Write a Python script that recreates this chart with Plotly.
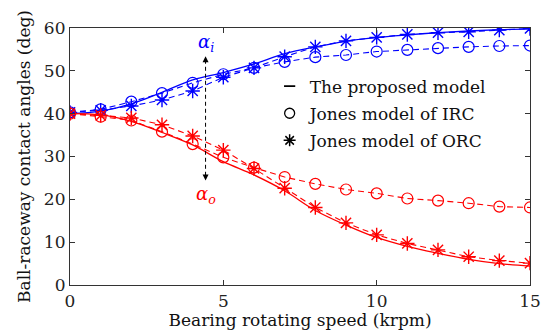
import plotly.graph_objects as go

speed = list(range(16))
x_ticks = [0, 5, 10, 15]
y_ticks = [0, 10, 20, 30, 40, 50, 60]

inner_proposed = [40.0, 40.6, 42.3, 45.0, 47.9, 49.6, 51.6, 54.0, 55.6, 56.9, 57.8, 58.4, 58.9, 59.3, 59.6, 59.8]
inner_irc = [40.3, 41.0, 42.8, 44.8, 47.2, 49.2, 50.7, 52.1, 53.2, 53.7, 54.5, 54.9, 55.3, 55.6, 55.8, 55.9]
inner_orc = [40.3, 40.8, 41.8, 43.2, 45.3, 48.5, 50.7, 53.3, 55.6, 57.0, 57.8, 58.5, 58.9, 59.1, 59.5, 59.9]

outer_proposed = [40.0, 39.7, 38.2, 35.6, 32.7, 28.8, 25.7, 22.0, 17.4, 14.0, 11.1, 9.0, 7.4, 6.0, 5.0, 4.4]
outer_irc = [40.0, 39.3, 38.4, 35.8, 32.9, 29.8, 27.4, 25.2, 23.6, 22.3, 21.4, 20.2, 19.7, 19.1, 18.3, 18.1]
outer_orc = [40.0, 39.6, 39.0, 37.4, 34.8, 31.5, 27.2, 22.6, 18.1, 14.5, 11.7, 9.7, 8.2, 6.6, 5.7, 5.1]

legend_names = ["The proposed model", "Jones model of IRC", "Jones model of ORC"]

BLUE = "#0000ff"
RED = "#ff0000"
FONT = "DejaVu Serif"

fig = go.Figure()

def add_set(color, prop, irc, orc):
    fig.add_trace(go.Scatter(x=speed, y=prop, mode="lines", line=dict(color=color, width=1.3, shape="spline"),
                             showlegend=False))
    fig.add_trace(go.Scatter(x=speed, y=irc, mode="lines+markers",
                             line=dict(color=color, width=1.1, dash="6px,4px"),
                             marker=dict(symbol="circle-open", size=11, color=color, line=dict(width=1.2, color=color)),
                             showlegend=False))
    fig.add_trace(go.Scatter(x=speed, y=orc, mode="lines+markers",
                             line=dict(color=color, width=1.1, dash="6px,4px"),
                             marker=dict(symbol="asterisk-open", size=12, color=color, line=dict(width=1.4, color=color)),
                             showlegend=False))

add_set(BLUE, inner_proposed, inner_irc, inner_orc)
add_set(RED, outer_proposed, outer_irc, outer_orc)

# legend entries (black symbols)
fig.add_trace(go.Scatter(x=[None], y=[None], mode="markers", name=legend_names[0], legendgroup="a",
                         marker=dict(symbol="line-ew-open", size=8, color="black", line=dict(width=1.6, color="black"))))
fig.add_trace(go.Scatter(x=[None], y=[None], mode="markers", name=legend_names[1], legendgroup="b",
                         marker=dict(symbol="circle-open", size=10, color="black", line=dict(width=1.3, color="black"))))
fig.add_trace(go.Scatter(x=[None], y=[None], mode="markers", name=legend_names[2], legendgroup="c",
                         marker=dict(symbol="asterisk-open", size=10, color="black", line=dict(width=1.5, color="black"))))

# dashed double arrow
fig.add_shape(type="line", x0=4.42, x1=4.42, y0=25.5, y1=52.3, xref="x", yref="y",
              line=dict(color="black", width=1, dash="4px,3px"))
fig.add_annotation(x=4.42, y=53.4, ax=4.42, ay=51.5, axref="x", ayref="y", xref="x", yref="y",
                   showarrow=True, arrowhead=2, arrowsize=1.2, arrowwidth=1, arrowcolor="black", text="")
fig.add_annotation(x=4.42, y=24.4, ax=4.42, ay=26.3, axref="x", ayref="y", xref="x", yref="y",
                   showarrow=True, arrowhead=2, arrowsize=1.2, arrowwidth=1, arrowcolor="black", text="")
fig.add_annotation(x=4.45, y=56.6, xref="x", yref="y", showarrow=False,
                   text="<i>α<sub>i</sub></i>", font=dict(family=FONT, size=18, color=BLUE))
fig.add_annotation(x=4.45, y=21.0, xref="x", yref="y", showarrow=False,
                   text="<i>α<sub>o</sub></i>", font=dict(family=FONT, size=18, color=RED))

axis_common = dict(showline=True, linecolor="#333333", linewidth=1.2, mirror="ticks", ticks="inside",
                   ticklen=5, tickcolor="#333333", showgrid=False, zeroline=False,
                   tickfont=dict(family=FONT, size=17, color="#222222"))

fig.update_xaxes(range=[0, 15], tickvals=x_ticks, **axis_common,
                 title=dict(text="Bearing rotating speed (krpm)", font=dict(family=FONT, size=17, color="#111111"),
                            standoff=0))
fig.update_yaxes(range=[0, 60], tickvals=y_ticks, **axis_common,
                 title=dict(text="Ball-raceway contact angles (deg)", font=dict(family=FONT, size=17, color="#111111"),
                            standoff=8))

fig.update_layout(
    width=553, height=336,
    margin=dict(l=70, r=17, t=28, b=51),
    paper_bgcolor="white", plot_bgcolor="white",
    font=dict(family=FONT),
    legend=dict(x=0.434, y=0.842, xanchor="left", yanchor="top", bgcolor="rgba(0,0,0,0)",
                font=dict(family=FONT, size=17, color="#111111"), itemwidth=30, tracegroupgap=2),
)

fig.write_html("out.html")
